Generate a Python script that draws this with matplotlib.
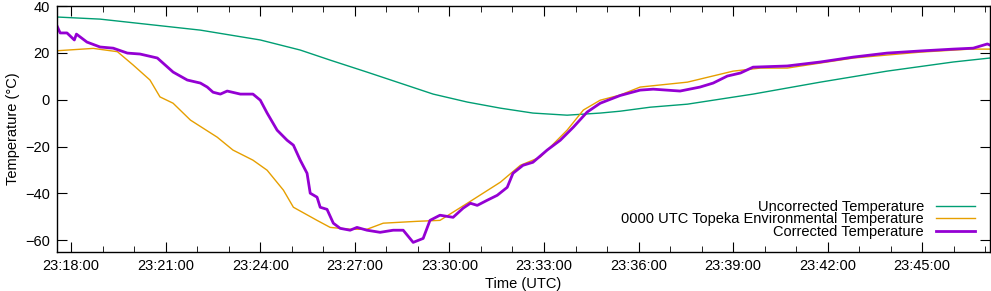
import matplotlib
matplotlib.use("Agg")
import matplotlib.pyplot as plt
import matplotlib.dates as mdates
from datetime import datetime

# values (time UTC, temperature degC)
green_t = ["23:17:33", "23:18:55", "23:22:06", "23:24:00", "23:25:16", "23:26:13",
           "23:27:23", "23:28:26", "23:29:29", "23:30:34", "23:31:37", "23:32:39",
           "23:33:44", "23:34:47", "23:35:25", "23:36:22", "23:37:33", "23:39:38",
           "23:41:46", "23:43:53", "23:45:59", "23:47:09"]
green_v = [35.3, 34.4, 29.7, 25.5, 21.2, 16.9, 11.8, 7.1, 2.4, -1.0, -3.6, -5.7,
           -6.6, -5.7, -4.9, -3.2, -1.9, 2.4, 7.5, 12.2, 16.1, 17.8]

orange_t = ["23:17:33", "23:18:42", "23:19:28", "23:19:58", "23:20:30", "23:20:49",
            "23:21:14", "23:21:47", "23:22:38", "23:23:08", "23:23:46", "23:24:13",
            "23:24:44", "23:25:03", "23:25:48", "23:26:13", "23:26:51", "23:27:23",
            "23:27:54", "23:28:59", "23:29:42", "23:30:34", "23:31:37", "23:32:15",
            "23:32:53", "23:33:44", "23:34:15", "23:34:47", "23:35:25", "23:36:03",
            "23:37:33", "23:39:00", "23:39:52", "23:40:43", "23:42:49", "23:44:56",
            "23:46:31", "23:47:09"]
orange_v = [20.9, 21.9, 20.5, 14.8, 8.4, 1.2, -1.5, -8.7, -16.0, -21.5, -25.8, -30.1,
            -38.6, -45.9, -51.5, -54.5, -55.3, -55.3, -52.7, -51.9, -51.5, -44.2,
            -35.2, -28.0, -24.5, -13.0, -4.4, -0.2, 2.0, 5.4, 7.5, 12.2, 13.5, 13.5,
            17.8, 20.3, 21.6, 21.6]

purple_t = ["23:17:33", "23:17:39", "23:17:52", "23:18:06", "23:18:10", "23:18:30",
            "23:18:55", "23:19:20", "23:19:47", "23:20:11", "23:20:44", "23:21:14",
            "23:21:41", "23:22:06", "23:22:19", "23:22:30", "23:22:44", "23:22:57",
            "23:23:22", "23:23:46", "23:24:00", "23:24:13", "23:24:32", "23:24:51",
            "23:25:03", "23:25:16", "23:25:29", "23:25:35", "23:25:48", "23:25:54",
            "23:26:07", "23:26:19", "23:26:32", "23:26:51", "23:27:04", "23:27:23",
            "23:27:48", "23:28:13", "23:28:32", "23:28:51", "23:29:10", "23:29:23",
            "23:29:42", "23:30:07", "23:30:26", "23:30:40", "23:30:53", "23:31:12",
            "23:31:31", "23:31:50", "23:32:01", "23:32:20", "23:32:39", "23:33:06",
            "23:33:31", "23:33:56", "23:34:22", "23:34:47", "23:35:25", "23:36:03",
            "23:36:28", "23:37:19", "23:37:57", "23:38:22", "23:38:49", "23:39:14",
            "23:39:38", "23:40:43", "23:41:46", "23:42:49", "23:43:53", "23:44:56",
            "23:45:59", "23:46:37", "23:47:04", "23:47:09"]
purple_v = [31.5, 28.5, 28.5, 25.5, 28.0, 24.6, 22.5, 22.0, 19.9, 19.5, 17.8, 11.8,
            8.4, 7.1, 5.4, 3.2, 2.4, 3.7, 2.4, 2.4, -0.2, -5.7, -13.0, -17.3,
            -19.4, -25.8, -31.4, -39.9, -41.6, -45.9, -46.8, -52.7, -54.9, -55.7,
            -54.5, -55.7, -56.6, -55.7, -55.7, -60.9, -59.2, -51.5, -49.3, -50.2,
            -46.3, -44.2, -45.1, -42.9, -40.8, -37.4, -31.4, -28.0, -26.7, -21.5,
            -17.3, -11.7, -5.3, -1.5, 1.8, 4.1, 4.5, 3.7, 5.4, 7.1, 10.1, 11.4,
            13.9, 14.4, 16.1, 18.2, 19.9, 20.8, 21.6, 22.0, 23.8, 23.3]


def to_dt(lst):
    return [datetime.strptime("2020-01-01 " + s, "%Y-%m-%d %H:%M:%S") for s in lst]


plt.rcParams['font.family'] = ['Liberation Sans', 'DejaVu Sans']
plt.rcParams['font.size'] = 10.5

fig = plt.figure(figsize=(9.91, 2.91), dpi=100)
ax = fig.add_axes([57/991, 39/291, 933/991, 246/291])

ax.plot(to_dt(green_t), green_v, color='#009e73', lw=1, label='Uncorrected Temperature')
ax.plot(to_dt(orange_t), orange_v, color='#e69f00', lw=1,
        label='0000 UTC Topeka Environmental Temperature')
ax.plot(to_dt(purple_t), purple_v, color='#9400d3', lw=2, label='Corrected Temperature')

ax.set_xlim(datetime(2020, 1, 1, 23, 17, 33), datetime(2020, 1, 1, 23, 47, 9))
ax.set_ylim(-65, 40)
ax.set_yticks([-60, -40, -20, 0, 20, 40])
ax.xaxis.set_major_locator(mdates.MinuteLocator(byminute=range(0, 60, 3)))
ax.xaxis.set_minor_locator(mdates.MinuteLocator())
ax.xaxis.set_major_formatter(mdates.DateFormatter('%H:%M:%S'))
ax.tick_params(which='both', direction='in', top=True, right=True, color='black')
ax.tick_params(which='major', length=7, pad=5)
ax.tick_params(which='minor', length=4)
for s in ax.spines.values():
    s.set_linewidth(1)

ax.set_xlabel('Time (UTC)', labelpad=3)
ax.set_ylabel('Temperature (°C)', labelpad=4)

ax.legend(loc='lower right', bbox_to_anchor=(0.995, 0.012), frameon=False,
          markerfirst=False, handlelength=2.7, labelspacing=-0.1,
          handletextpad=0.8, borderpad=0.2)

fig.savefig('out.png', dpi=100)
